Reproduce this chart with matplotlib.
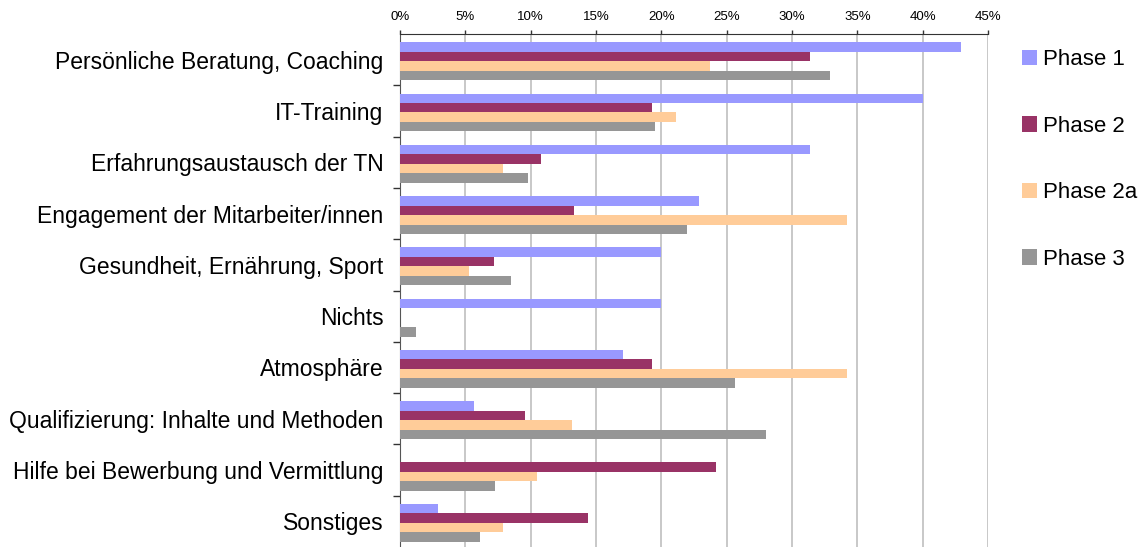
import numpy as np
import matplotlib.pyplot as plt
from matplotlib.ticker import FixedLocator

plt.rcParams['font.family'] = ['Liberation Sans', 'DejaVu Sans']

categories = ['Persönliche Beratung, Coaching', 'IT-Training', 'Erfahrungsaustausch der TN',
              'Engagement der Mitarbeiter/innen', 'Gesundheit, Ernährung, Sport', 'Nichts',
              'Atmosphäre', 'Qualifizierung: Inhalte und Methoden',
              'Hilfe bei Bewerbung und Vermittlung', 'Sonstiges']

phase1 = [42.9, 40.0, 31.4, 22.9, 20.0, 20.0, 17.1, 5.7, 0.0, 2.9]
phase2 = [31.4, 19.3, 10.8, 13.3, 7.2, 0.0, 19.3, 9.6, 24.2, 14.4]
phase2a = [23.7, 21.1, 7.9, 34.2, 5.3, 0.0, 34.2, 13.2, 10.5, 7.9]
phase3 = [32.9, 19.5, 9.8, 22.0, 8.5, 1.2, 25.6, 28.0, 7.3, 6.1]

series = [('Phase 1', phase1, '#9999FF'),
          ('Phase 2', phase2, '#993366'),
          ('Phase 2a', phase2a, '#FFCC99'),
          ('Phase 3', phase3, '#969696')]

fig = plt.figure(figsize=(11.46, 5.47), dpi=100)
ax = fig.add_axes([400/1146, 0.0, 588/1146, 1 - 34/547])

y = np.arange(len(categories))
h = 0.185
for i, (name, vals, col) in enumerate(series):
    ax.barh(y + (i - 1.5) * h + 0.03, vals, height=h, color=col, label=name, zorder=3)

ax.set_xlim(0, 45)
ax.set_ylim(len(categories) - 0.5, -0.5)
ax.set_xticks(np.arange(0, 50, 5))
ax.set_xticklabels([f'{v}%' for v in range(0, 50, 5)], fontsize=9.5)
ax.xaxis.tick_top()
ax.tick_params(axis='x', length=3, width=1, color='#333333', pad=5)
ax.grid(axis='x', color='#c8c8c8', linewidth=1.4, zorder=0)

# labels at category centres, ticks on the boundaries
ax.set_yticks(y)
ax.set_yticklabels(categories, fontsize=16.5)
ax.tick_params(axis='y', which='major', length=0, pad=12)
ax.yaxis.set_minor_locator(FixedLocator(np.arange(0.5, len(categories) - 0.5, 1)))
ax.tick_params(axis='y', which='minor', length=5, width=1, color='#333333')

for s in ['right', 'bottom']:
    ax.spines[s].set_visible(False)
ax.spines['left'].set_color('#555555')
ax.spines['top'].set_color('#333333')

fig.legend(loc='upper left', bbox_to_anchor=(1011/1146, 1 - 38/547), frameon=False,
           fontsize=16, handlelength=0.68, handleheight=0.68, handletextpad=0.26,
           labelspacing=2.05, borderpad=0)

fig.savefig('out.png', dpi=100)
